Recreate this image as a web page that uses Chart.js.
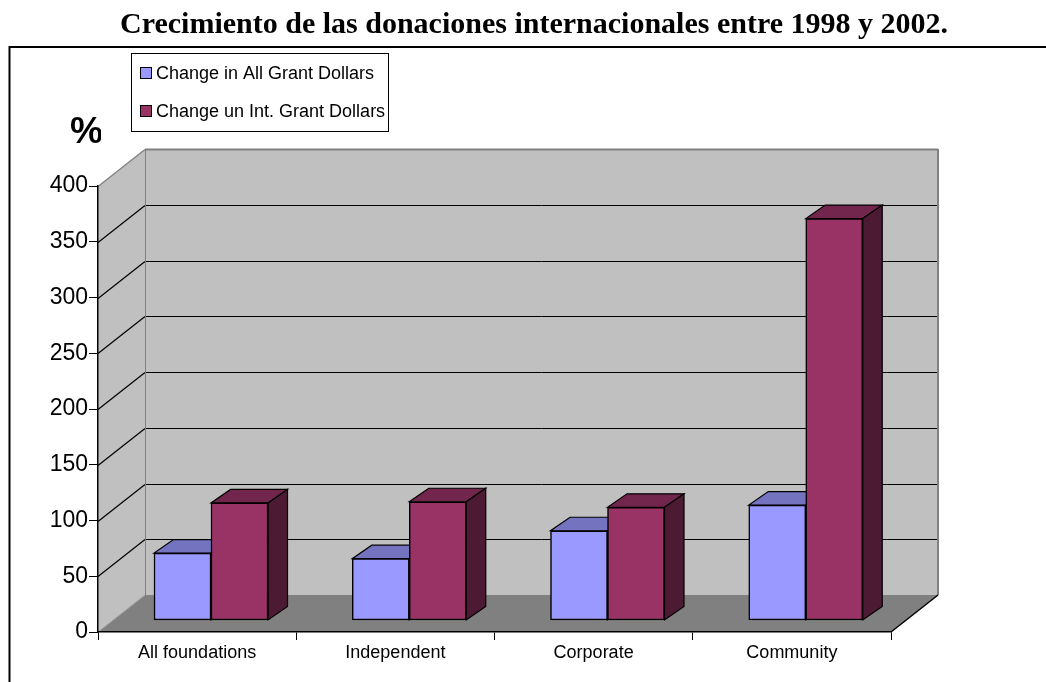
<!DOCTYPE html>
<html>
<head>
<meta charset="utf-8">
<script src="https://cdn.jsdelivr.net/npm/chart.js@4.4.1/dist/chart.umd.min.js"></script>
<style>
  html, body { margin: 0; padding: 0; background: #fff; }
  canvas { display: block; }
</style>
</head>
<body>
<canvas id="grafico" width="1046" height="682"></canvas>
<script>
// Datos del gráfico
const titulo = 'Crecimiento de las donaciones internacionales entre 1998 y 2002.';
const categorias = ['All foundations', 'Independent', 'Corporate', 'Community'];
const serieNombres = ['Change in All Grant Dollars', 'Change un Int. Grant Dollars'];
const cambioTotal = [60, 55, 80, 103];
const cambioInternacional = [105, 106, 101, 360];
const ticksY = [0, 50, 100, 150, 200, 250, 300, 350, 400];

// Colores: cara frontal, cara superior, cara lateral
const colores = [
  { front: '#9999FF', top: '#7373BF', side: '#4D4D80' },
  { front: '#993366', top: '#73264D', side: '#4D1A33' }
];

// Profundidad de las paredes y de las barras (px)
const DX = 47, DY = 37;
const BX = 19.5, BY = 13.5;

function poly(ctx, pts, fill, stroke, lw) {
  ctx.beginPath();
  ctx.moveTo(pts[0][0], pts[0][1]);
  for (let i = 1; i < pts.length; i++) ctx.lineTo(pts[i][0], pts[i][1]);
  ctx.closePath();
  if (fill) { ctx.fillStyle = fill; ctx.fill(); }
  if (stroke) { ctx.strokeStyle = stroke; ctx.lineWidth = lw || 1; ctx.stroke(); }
}

function linea(ctx, x1, y1, x2, y2, color, lw) {
  ctx.beginPath();
  ctx.moveTo(x1, y1);
  ctx.lineTo(x2, y2);
  ctx.strokeStyle = color;
  ctx.lineWidth = lw || 1;
  ctx.stroke();
}

// Fondo: marco, título, paredes y suelo
const fondo3d = {
  id: 'fondo3d',
  beforeDraw(chart) {
    const ctx = chart.ctx;
    const ys = chart.scales.y;
    const L = chart.chartArea.left, R = chart.chartArea.right;
    const y0 = Math.round(ys.getPixelForValue(ys.min));
    const yT = Math.round(ys.getPixelForValue(ys.max));
    ctx.save();
    ctx.fillStyle = '#fff';
    ctx.fillRect(0, 0, chart.width, chart.height);

    // marco
    ctx.beginPath();
    ctx.moveTo(9.5, chart.height);
    ctx.lineTo(9.5, 47);
    ctx.lineTo(chart.width, 47);
    ctx.strokeStyle = '#000';
    ctx.lineWidth = 2;
    ctx.stroke();

    // título
    ctx.fillStyle = '#000';
    ctx.font = 'bold 30px "Liberation Serif"';
    ctx.textAlign = 'center';
    ctx.textBaseline = 'alphabetic';
    ctx.fillText(titulo, 534, 33);

    // paredes
    poly(ctx, [[L, yT], [L + DX, yT - DY], [L + DX, y0 - DY], [L, y0]], '#C0C0C0');
    ctx.fillStyle = '#C0C0C0';
    ctx.fillRect(L + DX, yT - DY, R - L, y0 - yT);
    // suelo
    poly(ctx, [[L, y0], [R, y0], [R + DX, y0 - DY], [L + DX, y0 - DY]], '#808080');

    // cuadrícula
    ys.ticks.forEach(t => {
      if (t.value === ys.min) return;
      const py = Math.round(ys.getPixelForValue(t.value)) + 0.5;
      const c = t.value === ys.max ? '#808080' : '#000';
      linea(ctx, L, py, L + DX, py - DY, c, 1.2);
      linea(ctx, L + DX, py - DY, R + DX, py - DY, c, t.value === ys.max ? 2 : 1);
    });

    // aristas
    linea(ctx, L + DX + 0.5, yT - DY, L + DX + 0.5, y0 - DY, '#808080', 1);
    linea(ctx, R + DX, yT - DY, R + DX, y0 - DY, '#808080', 2);
    linea(ctx, L, y0, L + DX, y0 - DY, '#A0A0A0', 1);
    linea(ctx, R, y0, R + DX, y0 - DY, '#000', 1.5);
    ctx.restore();
  },

  // caras superior y lateral de cada barra
  beforeDatasetsDraw(chart) {
    const ctx = chart.ctx;
    ctx.save();
    chart.data.datasets.forEach((ds, di) => {
      const meta = chart.getDatasetMeta(di);
      meta.data.forEach(bar => {
        const p = bar.getProps(['x', 'y', 'base', 'width'], true);
        const l = p.x - p.width / 2, r = p.x + p.width / 2;
        poly(ctx, [[l, p.y], [r, p.y], [r + BX, p.y - BY], [l + BX, p.y - BY]], colores[di].top, '#000', 1.2);
        poly(ctx, [[r, p.y], [r + BX, p.y - BY], [r + BX, p.base - BY], [r, p.base]], colores[di].side, '#000', 1.2);
      });
    });
    ctx.restore();
  },

  // leyenda y símbolo del eje
  afterDraw(chart) {
    const ctx = chart.ctx;
    ctx.save();
    ctx.fillStyle = '#fff';
    ctx.fillRect(131, 53, 257, 78);
    ctx.strokeStyle = '#000';
    ctx.lineWidth = 1;
    ctx.strokeRect(131.5, 53.5, 257, 78);
    ctx.font = '18px "Liberation Sans"';
    ctx.textAlign = 'left';
    ctx.textBaseline = 'middle';
    chart.data.datasets.forEach((ds, i) => {
      const cy = 73 + i * 38;
      ctx.fillStyle = ds.backgroundColor;
      ctx.fillRect(140.5, cy - 5.5, 11, 11);
      ctx.strokeRect(140.5, cy - 5.5, 11, 11);
      ctx.fillStyle = '#000';
      ctx.fillText(ds.label, 156, cy + 1);
    });

    ctx.beginPath();
    ctx.rect(0, 0, 101, chart.height);
    ctx.clip();
    ctx.font = 'bold 37px "Liberation Sans"';
    ctx.textBaseline = 'alphabetic';
    ctx.fillText('%', 70, 143);
    ctx.restore();
  }
};

const barOpts = {
  xAxisID: 'xBar',
  yAxisID: 'yBar',
  borderColor: '#000',
  borderWidth: 1.5,
  borderSkipped: false,
  barThickness: 57,
  clip: false
};

new Chart(document.getElementById('grafico'), {
  type: 'bar',
  data: {
    labels: categorias,
    datasets: [
      Object.assign({
        label: serieNombres[0],
        data: cambioTotal.map((v, i) => ({ x: i, y: v })),
        backgroundColor: colores[0].front
      }, barOpts),
      Object.assign({
        label: serieNombres[1],
        data: cambioInternacional.map((v, i) => ({ x: i, y: v })),
        backgroundColor: colores[1].front
      }, barOpts)
    ]
  },
  options: {
    responsive: false,
    animation: false,
    events: [],
    layout: { padding: { top: 186, right: 155, left: 0, bottom: 0 } },
    plugins: {
      legend: { display: false },
      title: { display: false },
      tooltip: { enabled: false }
    },
    scales: {
      x: {
        type: 'category',
        offset: true,
        grid: { offset: true, drawOnChartArea: false, tickLength: 8, color: '#000' },
        border: { color: '#000', width: 1.5 },
        ticks: {
          color: '#000',
          font: { family: 'Liberation Sans', size: 18 },
          padding: 2,
          maxRotation: 0,
          autoSkip: false
        },
        afterFit(s) { s.height = 50; }
      },
      y: {
        type: 'linear',
        position: 'left',
        min: ticksY[0],
        max: ticksY[ticksY.length - 1],
        ticks: {
          stepSize: ticksY[1] - ticksY[0],
          color: '#000',
          font: { family: 'Liberation Sans', size: 23 },
          padding: 1
        },
        grid: { drawOnChartArea: false, tickLength: 9, color: '#000' },
        border: { color: '#000', width: 1.5 },
        afterFit(s) { s.width = 98; }
      },
      // escalas ocultas para el plano de las barras (un poco hacia el fondo)
      xBar: { type: 'linear', display: false, offset: false, min: -0.57, max: 3.43 },
      yBar: { type: 'linear', display: false, min: -10.8, max: 389.2 }
    }
  },
  plugins: [fondo3d]
});
</script>
</body>
</html>
